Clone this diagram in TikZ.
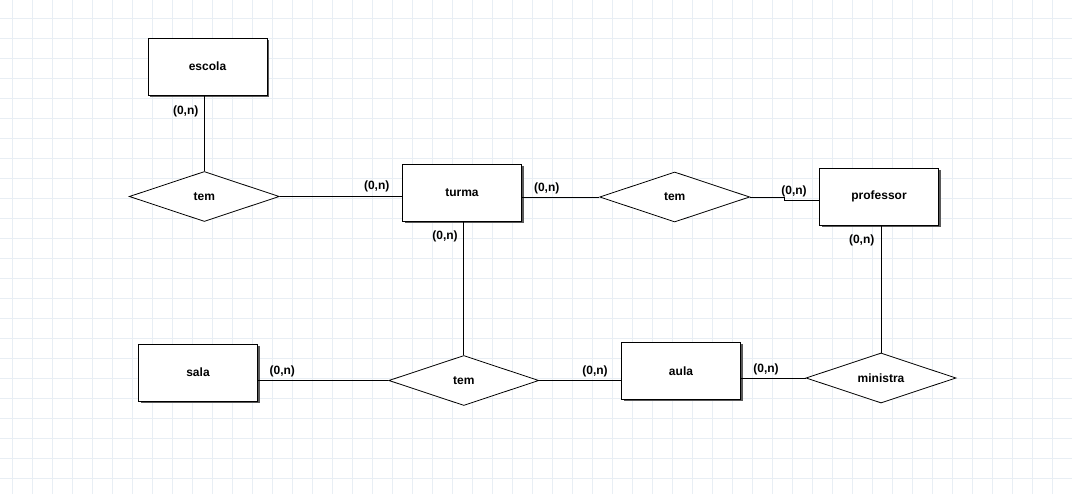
\documentclass[tikz,border=0pt]{standalone}
\usepackage{fontspec}
\setmainfont{Liberation Sans}
\usetikzlibrary{shapes.geometric, shadows, positioning, calc}
\definecolor{gradeclara}{RGB}{232,238,244}
\tikzset{
	entidade/.style={draw, thick, fill=white, minimum width=119pt, minimum height=57pt, inner sep=0pt,
		font=\fontsize{12}{14}\selectfont\bfseries,
		drop shadow={shadow xshift=2pt, shadow yshift=-2pt, fill=black!65, opacity=1}},
	relacao/.style={draw, thick, fill=white, diamond, aspect=3, inner sep=0pt,
		minimum width=150pt, minimum height=50pt, font=\fontsize{12}{14}\selectfont\bfseries},
	card/.style={font=\fontsize{12}{14}\selectfont\bfseries, inner sep=0pt},
	liga/.style={thick}
}
\begin{document}
\begin{tikzpicture}[x=1pt, y=-1pt]
	% Fundo e grade
	\useasboundingbox[fill=white] (0,0) rectangle (1072,494);
	\foreach \gx in {12,32,...,1072}
		\draw[gradeclara, line width=0.8pt] (\gx,0) -- (\gx,494);
	\foreach \gy in {18,38,...,494}
		\draw[gradeclara, line width=0.8pt] (0,\gy) -- (1072,\gy);
	
	% Entidades
	\node[entidade] (escola) at (207.5,66.5) {escola};
	\node[entidade] (turma) at (462,192.5) {turma};
	\node[entidade] (professor) at (879,196.5) {professor};
	\node[entidade] (sala) at (198,372.5) {sala};
	\node[entidade] (aula) at (681,371) {aula};
	
	% Relacionamentos
	\node[relacao] (temA) at (204.3,196.5) {tem};
	\node[relacao] (temB) at (674.7,197) {tem};
	\node[relacao] (temC) at (463.8,380.5) {tem};
	\node[relacao] (ministra) at (881,378) {ministra};
	
	% Ligacoes
	\draw[liga] (temA.north) -- (temA.north |- escola.south);
	\draw[liga] (temA.east) -- (temA.east -| turma.west);
	\draw[liga] (temB.west) -- (temB.west -| turma.east);
	\coordinate (dobra) at (784.3,197);
	\draw[liga] (temB.east) -- (dobra) |- ([yshift=-4pt]professor.west);
	\draw[liga] (ministra.north) -- (ministra.north |- professor.south);
	\draw[liga] (ministra.west) -- (ministra.west -| aula.east);
	\draw[liga] (temC.east) -- (temC.east -| aula.west);
	\draw[liga] (temC.north) -- (temC.north |- turma.south);
	\draw[liga] (temC.west) -- (temC.west -| sala.east);
	
	% Cardinalidades
	\node[card] (cEscola) at (185.7,111) {(0,n)};
	\node[card] (cTurmaA) at (376.7,186.7) {(0,n)};
	\node[card] (cTurmaB) at (546.7,188.3) {(0,n)};
	\node[card] (cProfA) at (794,191) {(0,n)};
	\node[card] (cProfB) at (861.7,240) {(0,n)};
	\node[card] (cTurmaC) at (445,236) {(0,n)};
	\node[card] (cSala) at (282.3,371.7) {(0,n)};
	\node[card] (cAulaA) at (595,371.7) {(0,n)};
	\node[card] (cAulaB) at (766,369.3) {(0,n)};
\end{tikzpicture}
\end{document}
